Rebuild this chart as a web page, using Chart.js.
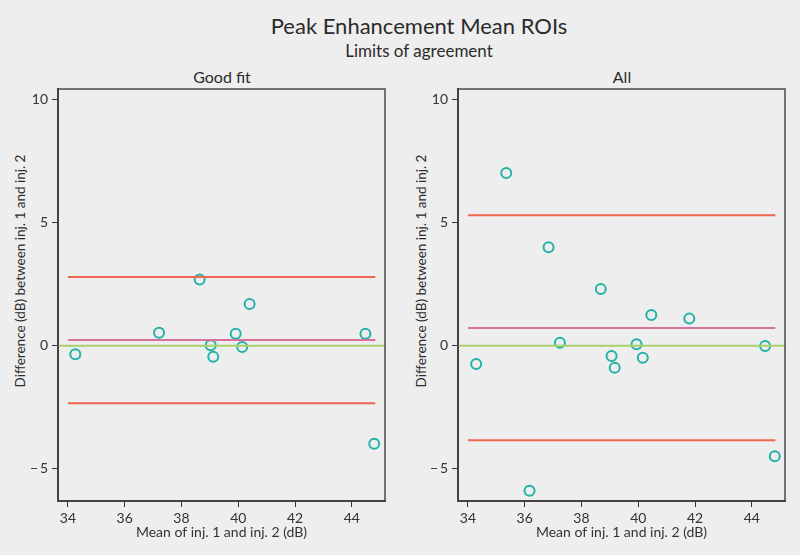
<!DOCTYPE html>
<html>
<head>
<meta charset="utf-8">
<script src="https://cdn.jsdelivr.net/npm/chart.js@4"></script>
<style>
  body { margin:0; background:#eeeeee; font-family:Lato, sans-serif; color:#2b2b2b; }
  #wrap { position:relative; width:800px; height:555px; overflow:hidden; }
  .t { position:absolute; white-space:nowrap; transform:translate(-50%,-50%); }
  .yt { position:absolute; white-space:nowrap; font-size:13.5px; transform:translate(-50%,-50%) rotate(-90deg); }
  canvas { position:absolute; top:60px; }
</style>
</head>
<body>
<div id="wrap">
  <div class="t" style="left:419px;top:25px;font-size:22px">Peak Enhancement Mean ROIs</div>
  <div class="t" style="left:419px;top:50px;font-size:17px">Limits of agreement</div>
  <div class="t" style="left:222px;top:76px;font-size:16px">Good fit</div>
  <div class="t" style="left:622px;top:76px;font-size:16px">All</div>
  <div class="yt" style="left:20px;top:271px">Difference (dB) between inj. 1 and inj. 2</div>
  <div class="yt" style="left:421px;top:271px">Difference (dB) between inj. 1 and inj. 2</div>
  <canvas id="c1" width="400" height="495" style="left:0"></canvas>
  <canvas id="c2" width="400" height="495" style="left:400px"></canvas>
</div>
<script>
// Good fit subset
var meanGood = [34.26, 37.21, 38.64, 39.03, 39.12, 39.91, 40.14, 40.40, 44.48, 44.79];
var diffGood = [-0.34, 0.53, 2.69, 0.02, -0.45, 0.49, -0.05, 1.69, 0.49, -3.98];
var limitsGood = [-2.33, 0.23, 2.79]; // lower, mean, upper

// All ROIs
var meanAll = [34.29, 35.35, 36.17, 36.84, 37.24, 38.68, 39.06, 39.17, 39.94, 40.16, 40.46, 41.80, 44.47, 44.81];
var diffAll = [-0.74, 7.01, -5.88, 4.00, 0.12, 2.30, -0.42, -0.89, 0.06, -0.49, 1.25, 1.11, -0.01, -4.48];
var limitsAll = [-3.83, 0.72, 5.30];

var xTicks = [34, 36, 38, 40, 42, 44];
var yTicks = [-5, 0, 5, 10];
var xRange = [33.65, 45.17];
var yRange = [-6.3, 10.42];
var lineSpan = [34.0, 44.83];

var teal = '#22b2a6', red = '#ef6650', pink = '#d8719b', green = '#a9d16b';

var boxPlugin = {
  id: 'box',
  afterDraw: function(chart) {
    var a = chart.chartArea, ctx = chart.ctx;
    ctx.save();
    ctx.strokeStyle = '#4a4a4a';
    ctx.lineWidth = 1.5;
    ctx.strokeRect(a.left, a.top, a.right - a.left, a.bottom - a.top);
    ctx.restore();
  }
};

function hline(y, x0, x1, color) {
  return {
    data: [{x: x0, y: y}, {x: x1, y: y}],
    showLine: true, borderColor: color, borderWidth: 2,
    pointRadius: 0, pointHoverRadius: 0
  };
}

function makeChart(id, means, diffs, limits) {
  var pts = means.map(function(m, i) { return {x: m, y: diffs[i]}; });
  return new Chart(document.getElementById(id), {
    type: 'scatter',
    data: {
      datasets: [
        hline(0, xRange[0], xRange[1], green),
        hline(limits[0], lineSpan[0], lineSpan[1], red),
        hline(limits[2], lineSpan[0], lineSpan[1], red),
        hline(limits[1], lineSpan[0], lineSpan[1], pink),
        {
          data: pts,
          pointStyle: 'circle', pointRadius: 5, pointBorderWidth: 2,
          pointBackgroundColor: 'rgba(0,0,0,0)', borderColor: teal
        }
      ]
    },
    options: {
      responsive: false,
      animation: false,
      layout: { padding: { top: 29, left: 0, right: 15, bottom: 0 } },
      plugins: { legend: { display: false }, tooltip: { enabled: false } },
      scales: {
        x: {
          type: 'linear', min: xRange[0], max: xRange[1],
          afterBuildTicks: function(s) { s.ticks = xTicks.map(function(v) { return {value: v}; }); },
          afterFit: function(s) { s.height = 54; },
          grid: { drawOnChartArea: false, drawTicks: true, tickLength: 6, color: '#333' },
          border: { color: '#333', width: 2 },
          ticks: { color: '#333', font: { family: 'Lato', size: 14 }, padding: 3, maxRotation: 0 },
          title: { display: true, text: 'Mean of inj. 1 and inj. 2 (dB)', color: '#333',
                   font: { family: 'Lato', size: 14 }, padding: { top: 0, bottom: 14 } }
        },
        y: {
          type: 'linear', min: yRange[0], max: yRange[1],
          afterBuildTicks: function(s) { s.ticks = yTicks.map(function(v) { return {value: v}; }); },
          afterFit: function(s) { s.width = 58; },
          grid: { drawOnChartArea: false, drawTicks: true, tickLength: 6, color: '#333' },
          border: { color: '#333', width: 2 },
          ticks: {
            color: '#333', font: { family: 'Lato', size: 14 }, padding: 4,
            callback: function(v) { return v < 0 ? '\u2212\u2009' + Math.abs(v) : '' + v; }
          }
        }
      }
    },
    plugins: [boxPlugin]
  });
}

makeChart('c1', meanGood, diffGood, limitsGood);
makeChart('c2', meanAll, diffAll, limitsAll);
</script>
</body>
</html>
